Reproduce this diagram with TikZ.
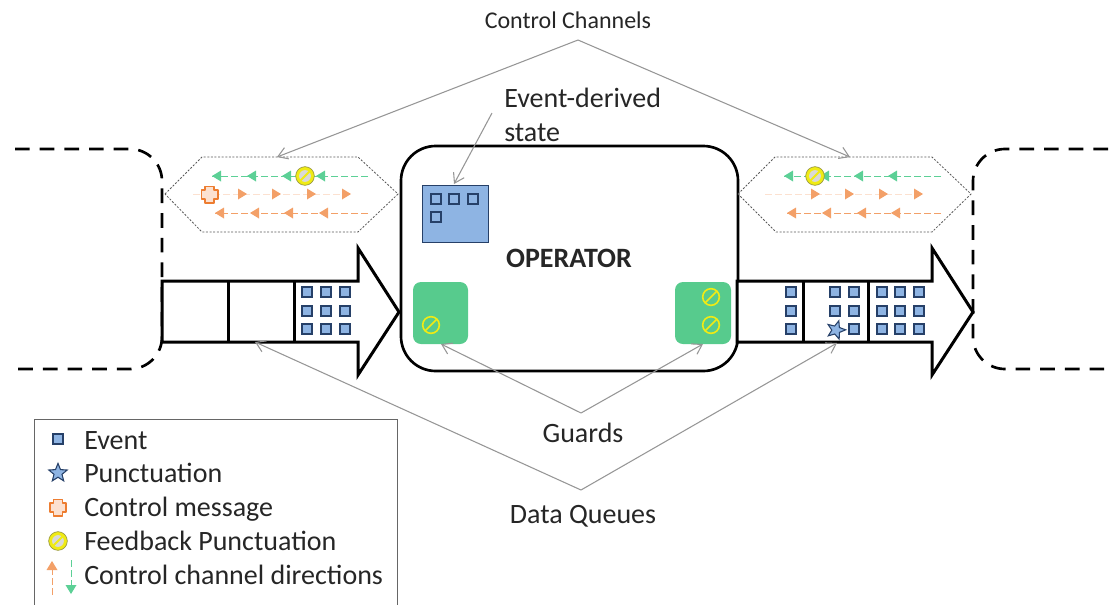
\documentclass[tikz,border=0pt]{standalone}
\usepackage{fontspec}
\setmainfont{Carlito}
\usepackage{tikz}
\usetikzlibrary{arrows.meta,shapes.geometric}
\definecolor{EventBlue}{RGB}{142,180,227}
\definecolor{EventEdge}{RGB}{38,64,104}
\definecolor{GuardGreen}{RGB}{87,203,141}
\definecolor{ChanGreen}{RGB}{92,208,150}
\definecolor{ChanOrange}{RGB}{243,160,104}
\definecolor{ChanPeach}{RGB}{252,225,208}
\definecolor{MsgOrange}{RGB}{237,125,49}
\definecolor{FbYellow}{RGB}{240,235,20}
\definecolor{FbOlive}{RGB}{150,150,70}
\definecolor{CalloutGray}{RGB}{150,150,150}
\tikzset{
  lbl/.style={inner sep=0.75pt,font=\fontsize{21}{25}\selectfont,text=black!85},
  ev/.style={draw=EventEdge,fill=EventBlue,line width=0.8pt,minimum size=7.5pt,inner sep=0pt},
  punct/.style={star,star points=5,star point ratio=2.3,draw=EventEdge,fill=EventBlue,line width=0.8pt,minimum size=14.5pt,inner sep=0pt},
  fbchan/.style={circle,draw=FbOlive,fill=FbYellow,line width=0.5pt,minimum size=14pt,inner sep=0pt,
    path picture={\fill[gray!30] (path picture bounding box.center) circle (4.4pt);
      \draw[FbYellow,line width=1.4pt] (path picture bounding box.south west) -- (path picture bounding box.north east);}},
  fbguard/.style={circle,draw=FbYellow,line width=1.2pt,minimum size=12.5pt,inner sep=0pt,
    path picture={\draw[FbYellow,line width=1.2pt] (path picture bounding box.south west) -- (path picture bounding box.north east);}},
  queue/.style={draw=black,fill=white,line width=2.25pt,miter limit=10},
  divider/.style={draw=black,line width=2.25pt},
  procdash/.style={draw=black,line width=2pt,dash pattern=on 11pt off 7.5pt,rounded corners=24pt},
  hexdot/.style={draw=black!65,line width=0.6pt,dash pattern=on 1.5pt off 1.2pt},
  callout/.style={draw=CalloutGray,line width=0.8pt,-{Straight Barb[length=7pt,width=9pt]}},
  changreen/.style={draw=ChanGreen,line width=0.75pt,dash pattern=on 5pt off 2.5pt},
  chanorange/.style={draw=ChanOrange,line width=0.75pt,dash pattern=on 5pt off 2.5pt},
  chanpeach/.style={draw=ChanPeach,line width=0.75pt,dash pattern=on 5pt off 2.5pt},
  tipgreen/.style={fill=ChanGreen},
  tiporange/.style={fill=ChanOrange},
  ctrlmsg/.style={draw=MsgOrange,fill=ChanPeach,line width=1pt,line join=round},
}
\begin{document}
\begin{tikzpicture}[x=0.75pt,y=0.75pt,yscale=-1,xscale=1]
\useasboundingbox (0,0) rectangle (1110,604);

%Dashed processes
\draw [procdash] (15,149) -| (162,369) -- (15,369);
\draw [procdash] (1108,149) -| (973,369) -- (1108,369);

%Operator
\node (operator) [draw=black,line width=2pt,rounded corners=26pt,minimum width=337*0.75pt,minimum height=225*0.75pt,inner sep=0pt] at (569.5,258.5) {};
\node (operatorlbl) [lbl,anchor=base,font=\fontsize{21}{25}\selectfont\bfseries] at (569,267) {OPERATOR};

%Event-derived state
\node (statebox) [draw=EventEdge,fill=EventBlue,line width=0.75pt,minimum width=66*0.75pt,minimum height=57*0.75pt,inner sep=0pt] at (455,213.5) {};
\node (st1) [ev] at (436,199) {};
\node (st2) [ev] at (454,199) {};
\node (st3) [ev] at (473,199) {};
\node (st4) [ev] at (436,217) {};

%Guards
\node (guardL) [fill=GuardGreen,rounded corners=6pt,minimum width=55*0.75pt,minimum height=62*0.75pt,inner sep=0pt] at (440.5,313) {};
\node (guardR) [fill=GuardGreen,rounded corners=6pt,minimum width=56*0.75pt,minimum height=62*0.75pt,inner sep=0pt] at (703,313) {};
\node (fbL) [fbguard] at (431,325) {};
\node (fbR1) [fbguard] at (711,297) {};
\node (fbR2) [fbguard] at (711,325) {};

%Left queue
\draw [queue] (162,281) -- (358,281) -- (358,248) -- (399,312) -- (358,375) -- (358,342) -- (162,342) -- cycle;
\draw [draw=white,line width=2.25pt] (358,283) -- (358,340);
\draw [divider] (228,281) -- (228,342);
\draw [divider] (294,281) -- (294,342);
\node (qa1) [ev] at (307,292) {};
\node (qa2) [ev] at (326,292) {};
\node (qa3) [ev] at (345,292) {};
\node (qa4) [ev] at (307,311) {};
\node (qa5) [ev] at (326,311) {};
\node (qa6) [ev] at (345,311) {};
\node (qa7) [ev] at (307,329) {};
\node (qa8) [ev] at (326,329) {};
\node (qa9) [ev] at (345,329) {};

%Right queue
\draw [queue] (737,281) -- (932,281) -- (932,248) -- (973,312) -- (932,375) -- (932,342) -- (737,342) -- cycle;
\draw [draw=white,line width=2.25pt] (932,283) -- (932,340);
\draw [divider] (803,281) -- (803,342);
\draw [divider] (868,281) -- (868,342);
\node (qb1) [ev] at (791,292) {};
\node (qb2) [ev] at (791,311) {};
\node (qb3) [ev] at (791,329) {};
\node (qc1) [ev] at (835,292) {};
\node (qc2) [ev] at (854,292) {};
\node (qc3) [ev] at (835,311) {};
\node (qc4) [ev] at (854,311) {};
\node (qc5) [punct,shape border rotate=-17] at (836,330) {};
\node (qc6) [ev] at (854,329) {};
\node (qd1) [ev] at (882,292) {};
\node (qd2) [ev] at (900,292) {};
\node (qd3) [ev] at (919,292) {};
\node (qd4) [ev] at (882,311) {};
\node (qd5) [ev] at (900,311) {};
\node (qd6) [ev] at (919,311) {};
\node (qd7) [ev] at (882,329) {};
\node (qd8) [ev] at (900,329) {};
\node (qd9) [ev] at (919,329) {};

%Left control channels
\draw [hexdot] (165,194) -- (202,157) -- (358,157) -- (398,194) -- (358,232) -- (202,232) -- cycle;
\draw [changreen] (368,176) -- (212,176);
\fill [tipgreen] (212,176) -- (221,170.5) -- (221,181.5) -- cycle;
\fill [tipgreen] (247,176) -- (256,170.5) -- (256,181.5) -- cycle;
\fill [tipgreen] (282,176) -- (291,170.5) -- (291,181.5) -- cycle;
\fill [tipgreen] (316,176) -- (325,170.5) -- (325,181.5) -- cycle;
\draw [chanpeach] (193,194) -- (350,194);
\fill [tiporange] (247,194) -- (238,188.5) -- (238,199.5) -- cycle;
\fill [tiporange] (281,194) -- (272,188.5) -- (272,199.5) -- cycle;
\fill [tiporange] (316,194) -- (307,188.5) -- (307,199.5) -- cycle;
\fill [tiporange] (351,194) -- (342,188.5) -- (342,199.5) -- cycle;
\draw [chanorange] (368,213) -- (215,213);
\fill [tiporange] (215,213) -- (224,207.5) -- (224,218.5) -- cycle;
\fill [tiporange] (250,213) -- (259,207.5) -- (259,218.5) -- cycle;
\fill [tiporange] (284,213) -- (293,207.5) -- (293,218.5) -- cycle;
\fill [tiporange] (319,213) -- (328,207.5) -- (328,218.5) -- cycle;
\node (fbchanL) [fbchan] at (305,176) {};
\draw [ctrlmsg] (205,186.5) -- (214,186.5) -- (214,190) -- (218,190) -- (218,199) -- (214,199) -- (214,203) -- (205,203) -- (205,199) -- (201.5,199) -- (201.5,190) -- (205,190) -- cycle;

%Right control channels
\draw [hexdot] (738,194) -- (775,157) -- (932,157) -- (971,194) -- (932,232) -- (776,232) -- cycle;
\draw [changreen] (941,176) -- (784,176);
\fill [tipgreen] (784,176) -- (793,170.5) -- (793,181.5) -- cycle;
\fill [tipgreen] (820,176) -- (829,170.5) -- (829,181.5) -- cycle;
\fill [tipgreen] (854,176) -- (863,170.5) -- (863,181.5) -- cycle;
\fill [tipgreen] (888,176) -- (897,170.5) -- (897,181.5) -- cycle;
\draw [chanpeach] (765,194) -- (923,194);
\fill [tiporange] (820,194) -- (811,188.5) -- (811,199.5) -- cycle;
\fill [tiporange] (854,194) -- (845,188.5) -- (845,199.5) -- cycle;
\fill [tiporange] (888,194) -- (879,188.5) -- (879,199.5) -- cycle;
\fill [tiporange] (923,194) -- (914,188.5) -- (914,199.5) -- cycle;
\draw [chanorange] (941,213) -- (787,213);
\fill [tiporange] (787,213) -- (796,207.5) -- (796,218.5) -- cycle;
\fill [tiporange] (822,213) -- (831,207.5) -- (831,218.5) -- cycle;
\fill [tiporange] (857,213) -- (866,207.5) -- (866,218.5) -- cycle;
\fill [tiporange] (891,213) -- (900,207.5) -- (900,218.5) -- cycle;
\node (fbchanR) [fbchan] at (815,176) {};

% Text Node
\node (ctrllbl) [lbl,anchor=base,font=\fontsize{18}{25}\selectfont] at (568,28) {Control Channels};
\node (statelbl) [lbl,align=left,anchor=north west] at (503,87) {Event-derived\\state};
\node (guardslbl) [lbl,anchor=base] at (583,442) {Guards};
\node (datalbl) [lbl,anchor=base] at (583,523) {Data Queues};

%Callout coordinates
\coordinate (ctrlapex) at (578,40);
\coordinate (hexL) at (277,157);
\coordinate (hexR) at (850,157);
\coordinate (statefrom) at (492,113);
\coordinate (stateto) at (454,184);
\coordinate (guardapex) at (581,413);
\coordinate (guardLto) at (441,344);
\coordinate (guardRto) at (703,344);
\coordinate (dataapex) at (581,490);
\coordinate (dataLto) at (255,342);
\coordinate (dataRto) at (837,343);

%Callouts
\draw [callout] (ctrlapex) -- (hexL);
\draw [callout] (ctrlapex) -- (hexR);
\draw [callout] (statefrom) -- (stateto);
\draw [callout] (guardapex) -- (guardLto);
\draw [callout] (guardapex) -- (guardRto);
\draw [callout] (dataapex) -- (dataLto);
\draw [callout] (dataapex) -- (dataRto);

%Legend
\draw [draw=black!60,line width=0.75pt] (34,610) -- (34,419) -- (397,419) -- (397,610);
\node (legev) [ev] at (58,439) {};
\node (legevlbl) [lbl,anchor=base west] at (83,449) {Event};
\node (legpunct) [punct] at (58,473) {};
\node (legpunctlbl) [lbl,anchor=base west] at (83,482.5) {Punctuation};
\draw [ctrlmsg] (53.5,499.5) -- (62.5,499.5) -- (62.5,503) -- (66,503) -- (66,512) -- (62.5,512) -- (62.5,516) -- (53.5,516) -- (53.5,512) -- (50,512) -- (50,503) -- (53.5,503) -- cycle;
\node (legmsglbl) [lbl,anchor=base west] at (83,516) {Control message};
\node (legfb) [fbchan] at (58,541) {};
\node (legfblbl) [lbl,anchor=base west] at (83,550) {Feedback Punctuation};
\draw [chanorange] (52,595) -- (52,565);
\fill [tiporange] (52,561) -- (46.5,570) -- (57.5,570) -- cycle;
\draw [changreen] (71,560) -- (71,590);
\fill [tipgreen] (71,594) -- (65.5,585) -- (76.5,585) -- cycle;
\node (legdirlbl) [lbl,anchor=base west] at (83,584) {Control channel directions};

\end{tikzpicture}
\end{document}
